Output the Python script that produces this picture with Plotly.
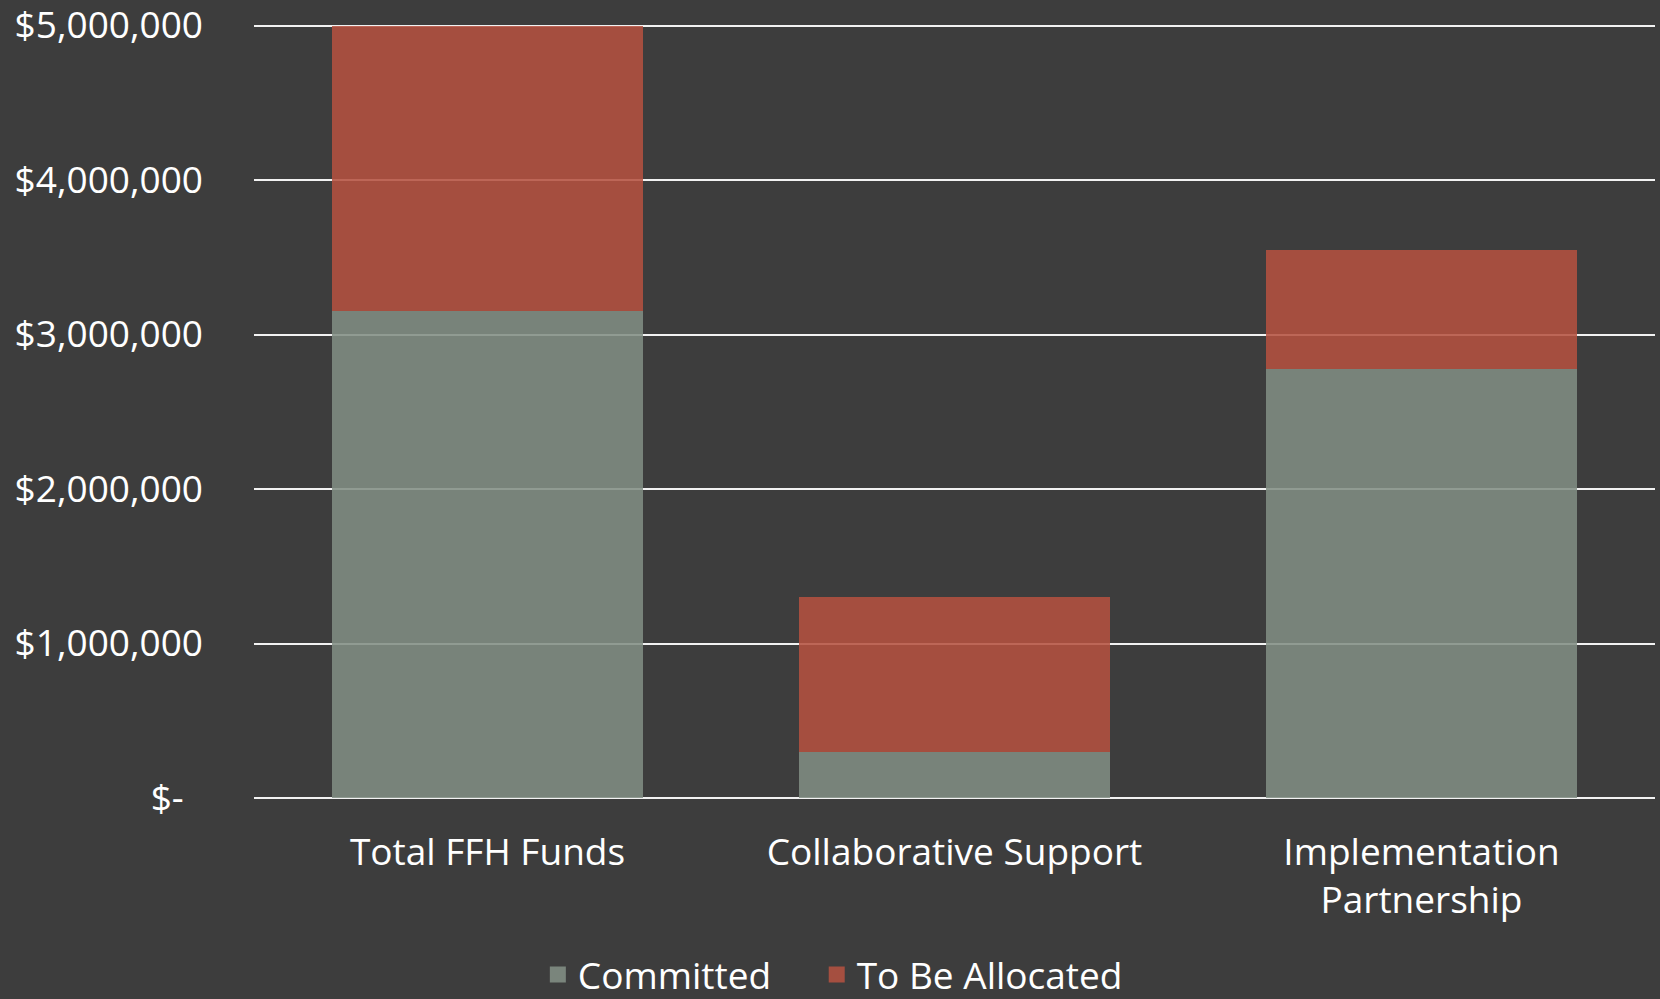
import plotly.graph_objects as go

categories = ["Total FFH Funds", "Collaborative Support", "Implementation<br>Partnership"]
committed = [3150000, 300000, 2780000]
to_be_allocated = [1850000, 1000000, 770000]
series_names = ["Committed", "To Be Allocated"]
y_tickvals = [0, 1000000, 2000000, 3000000, 4000000, 5000000]
y_ticktext = ["$-\u00a0\u00a0", "$1,000,000", "$2,000,000", "$3,000,000", "$4,000,000", "$5,000,000"]

BG = "#3D3D3D"
FONT = "Open Sans"
FS = 37
C_COMMITTED = "rgba(129,141,131,0.87)"
C_TBA = "rgba(180,80,63,0.87)"
SOLID = ["#7A857C", "#A54F40"]

fig = go.Figure()
fig.add_trace(go.Bar(x=categories, y=committed, name=series_names[0], showlegend=False,
                     marker=dict(color=C_COMMITTED, line=dict(width=0))))
fig.add_trace(go.Bar(x=categories, y=to_be_allocated, name=series_names[1], showlegend=False,
                     marker=dict(color=C_TBA, line=dict(width=0))))
# legend entries with larger square swatches, one legend box per entry
for name, col, lg in zip(series_names, SOLID, ["legend", "legend2"]):
    fig.add_trace(go.Scatter(x=[None], y=[None], mode="markers", name=name, legend=lg,
                             marker=dict(symbol="square", size=23, color=col)))

YMAX = 5000000
legend_common = dict(orientation="h", xref="container", yref="container",
                     xanchor="left", y=0.024, yanchor="middle",
                     font=dict(size=FS), itemwidth=30, bgcolor="rgba(0,0,0,0)")
fig.update_layout(
    width=1660, height=999,
    barmode="stack", bargap=0.334,
    paper_bgcolor=BG, plot_bgcolor=BG,
    font=dict(family=FONT, color="#FFFFFF", size=FS),
    margin=dict(l=254, r=5, t=24, b=201, autoexpand=False),
    legend=dict(x=0.324, **legend_common),
    legend2=dict(x=0.492, **legend_common),
    xaxis=dict(showgrid=False, zeroline=False, showline=False, ticks="",
               tickfont=dict(size=FS), ticklabelstandoff=29),
    yaxis=dict(range=[0, YMAX * 1.002], tickvals=y_tickvals, ticktext=y_ticktext,
               showgrid=True, gridcolor="#F2F2F2", gridwidth=2,
               zeroline=True, zerolinecolor="#F2F2F2", zerolinewidth=2,
               showline=False, ticks="", tickfont=dict(size=FS),
               ticklabelstandoff=50, ticklabeloverflow="allow"),
)

fig.write_html("out.html", config={"displayModeBar": False},
               post_script="document.body.style.margin='0';document.body.style.background='#3D3D3D';")
